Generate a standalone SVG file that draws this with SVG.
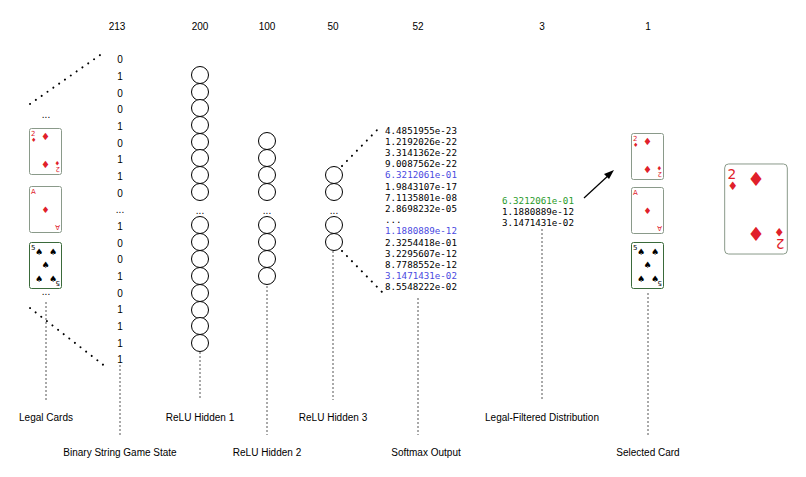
<svg xmlns="http://www.w3.org/2000/svg" xmlns:xlink="http://www.w3.org/1999/xlink" width="806" height="477" viewBox="0 0 806 477">
<style>
.t{font-family:"Liberation Sans",Arial,sans-serif;font-size:10px;fill:#000}
.m{font-family:"DejaVu Sans Mono","Liberation Mono",monospace;font-size:9.2px;fill:#000}
.c{fill:#fff;stroke:#000;stroke-width:1}
.dot{stroke:#000;stroke-width:2;stroke-dasharray:0.1 7;stroke-linecap:round;fill:none}
.dash{stroke:#555;stroke-width:1;stroke-dasharray:2 2;fill:none}
.r{fill:#e0202a;font-family:"DejaVu Sans",sans-serif}
.k{fill:#000;font-family:"DejaVu Sans",sans-serif}
.cr{fill:#fff;vector-effect:non-scaling-stroke;stroke-width:1}
</style>
<defs>
<symbol id="d2" viewBox="0 0 33 47"><rect class="cr" x="0.5" y="0.5" width="32" height="46" rx="2" stroke="#8a9a8a"/><text class="r" x="2" y="8" font-size="7">2</text><text class="r" x="2" y="14" font-size="6">♦</text><text class="r" x="16.5" y="12" font-size="10" text-anchor="middle">♦</text><text class="r" x="16.5" y="40" font-size="10" text-anchor="middle">♦</text><text class="r" font-size="7" transform="translate(31,39) rotate(180)">2</text><text class="r" font-size="6" transform="translate(31,33) rotate(180)">♦</text></symbol>
<symbol id="da" viewBox="0 0 33 47"><rect class="cr" x="0.5" y="0.5" width="32" height="46" rx="2" stroke="#8a9a8a"/><text class="r" x="2" y="8" font-size="7">A</text><text class="r" x="16.5" y="27" font-size="9" text-anchor="middle">♦</text><text class="r" font-size="7" transform="translate(31,39) rotate(180)">A</text></symbol>
<symbol id="s5" viewBox="0 0 33 47"><rect class="cr" x="0.5" y="0.5" width="32" height="46" rx="2" stroke="#3a6a3a"/><text class="k" x="2" y="8" font-size="7">5</text><text class="k" x="10" y="13" font-size="9" text-anchor="middle">♠</text><text class="k" x="24" y="13" font-size="9" text-anchor="middle">♠</text><text class="k" x="16.5" y="26" font-size="9" text-anchor="middle">♠</text><text class="k" x="10" y="40" font-size="9" text-anchor="middle">♠</text><text class="k" x="24" y="40" font-size="9" text-anchor="middle">♠</text><text class="k" font-size="7" transform="translate(31,39) rotate(180)">5</text></symbol>
</defs>
<g id="headers" class="t" text-anchor="middle">
<text x="117" y="30">213</text><text x="200" y="30">200</text><text x="267" y="30">100</text><text x="333" y="30">50</text><text x="418" y="30">52</text><text x="542" y="30">3</text><text x="648" y="30">1</text>
</g>
<g id="connectors">
<line class="dot" x1="30" y1="104" x2="103" y2="53"/>
<line class="dot" x1="30" y1="308" x2="106" y2="367"/>
<line class="dot" x1="342" y1="166" x2="380" y2="127"/>
<line class="dot" x1="342" y1="251" x2="382" y2="292"/>
<line class="dash" x1="46" y1="302" x2="46" y2="400"/>
<line class="dash" x1="120" y1="365" x2="120" y2="435"/>
<line class="dash" x1="200" y1="352" x2="200" y2="400"/>
<line class="dash" x1="267" y1="286" x2="267" y2="435"/>
<line class="dash" x1="333" y1="251" x2="333" y2="400"/>
<line class="dash" x1="418" y1="298" x2="418" y2="435"/>
<line class="dash" x1="542" y1="229" x2="542" y2="400"/>
<line class="dash" x1="648" y1="293" x2="648" y2="435"/>
<line x1="584" y1="198" x2="610" y2="174" stroke="#000" stroke-width="1.2"/>
<polygon points="614,170 604,174 609,179" fill="#000"/>
</g>
<g id="legal-cards">
<text class="t" x="46" y="118" text-anchor="middle">...</text>
<use xlink:href="#d2" x="29" y="128" width="33" height="47"/>
<use xlink:href="#da" x="29" y="186" width="33" height="47"/>
<use xlink:href="#s5" x="29" y="242" width="33" height="47"/>
<text class="t" x="46" y="295" text-anchor="middle">...</text>
</g>
<g id="bits" class="t" text-anchor="middle">
<text x="120" y="63">0</text><text x="120" y="80">1</text><text x="120" y="97">0</text><text x="120" y="113">0</text><text x="120" y="130">1</text><text x="120" y="147">0</text><text x="120" y="163">1</text><text x="120" y="180">1</text><text x="120" y="197">0</text><text x="120" y="213">...</text><text x="120" y="230">1</text><text x="120" y="247">0</text><text x="120" y="263">0</text><text x="120" y="280">1</text><text x="120" y="297">0</text><text x="120" y="313">1</text><text x="120" y="330">1</text><text x="120" y="347">1</text><text x="120" y="363">1</text>
</g>
<g id="hidden1">
<circle class="c" cx="200" cy="75" r="8.5"/><circle class="c" cx="200" cy="92" r="8.5"/><circle class="c" cx="200" cy="108" r="8.5"/><circle class="c" cx="200" cy="125" r="8.5"/><circle class="c" cx="200" cy="142" r="8.5"/><circle class="c" cx="200" cy="158" r="8.5"/><circle class="c" cx="200" cy="175" r="8.5"/><circle class="c" cx="200" cy="192" r="8.5"/>
<text class="t" x="200" y="214" text-anchor="middle">...</text>
<circle class="c" cx="200" cy="225" r="8.5"/><circle class="c" cx="200" cy="242" r="8.5"/><circle class="c" cx="200" cy="259" r="8.5"/><circle class="c" cx="200" cy="276" r="8.5"/><circle class="c" cx="200" cy="293" r="8.5"/><circle class="c" cx="200" cy="310" r="8.5"/><circle class="c" cx="200" cy="326" r="8.5"/><circle class="c" cx="200" cy="343" r="8.5"/>
</g>
<g id="hidden2">
<circle class="c" cx="267" cy="141" r="8.5"/><circle class="c" cx="267" cy="158" r="8.5"/><circle class="c" cx="267" cy="175" r="8.5"/><circle class="c" cx="267" cy="192" r="8.5"/>
<text class="t" x="267" y="214" text-anchor="middle">...</text>
<circle class="c" cx="267" cy="225" r="8.5"/><circle class="c" cx="267" cy="242" r="8.5"/><circle class="c" cx="267" cy="259" r="8.5"/><circle class="c" cx="267" cy="276" r="8.5"/>
</g>
<g id="hidden3">
<circle class="c" cx="334" cy="175" r="8.5"/><circle class="c" cx="334" cy="192" r="8.5"/>
<text class="t" x="334" y="214" text-anchor="middle">...</text>
<circle class="c" cx="334" cy="225" r="8.5"/><circle class="c" cx="334" cy="242" r="8.5"/>
</g>
<g id="softmax" class="m">
<text x="385" y="134">4.4851955e-23</text><text x="385" y="145">1.2192026e-22</text><text x="385" y="156">3.3141362e-22</text><text x="385" y="167">9.0087562e-22</text><text x="385" y="178" fill="#4a4adf">6.3212061e-01</text><text x="385" y="190">1.9843107e-17</text><text x="385" y="201">7.1135801e-08</text><text x="385" y="212">2.8698232e-05</text><text x="385" y="223">...</text><text x="385" y="234" fill="#4a4adf">1.1880889e-12</text><text x="385" y="246">2.3254418e-01</text><text x="385" y="257">3.2295607e-12</text><text x="385" y="268">8.7788552e-12</text><text x="385" y="279" fill="#4a4adf">3.1471431e-02</text><text x="385" y="290">8.5548222e-02</text>
</g>
<g id="filtered" class="m">
<text x="502" y="204" fill="#2a9a2a">6.3212061e-01</text><text x="502" y="215">1.1880889e-12</text><text x="502" y="226">3.1471431e-02</text>
</g>
<g id="selected-cards">
<use xlink:href="#d2" x="631" y="133" width="33" height="47"/>
<use xlink:href="#da" x="631" y="187" width="33" height="47"/>
<use xlink:href="#s5" x="631" y="242" width="33" height="47"/>
</g>
<g id="big-card">
<use xlink:href="#d2" x="723" y="163" width="66" height="92"/>
</g>
<g id="labels" class="t" text-anchor="middle">
<text x="46" y="421">Legal Cards</text><text x="200" y="421">ReLU Hidden 1</text><text x="333" y="421">ReLU Hidden 3</text><text x="542" y="421">Legal-Filtered Distribution</text>
<text x="120" y="456">Binary String Game State</text><text x="267" y="456">ReLU Hidden 2</text><text x="426" y="456">Softmax Output</text><text x="648" y="456">Selected Card</text>
</g>
</svg>
